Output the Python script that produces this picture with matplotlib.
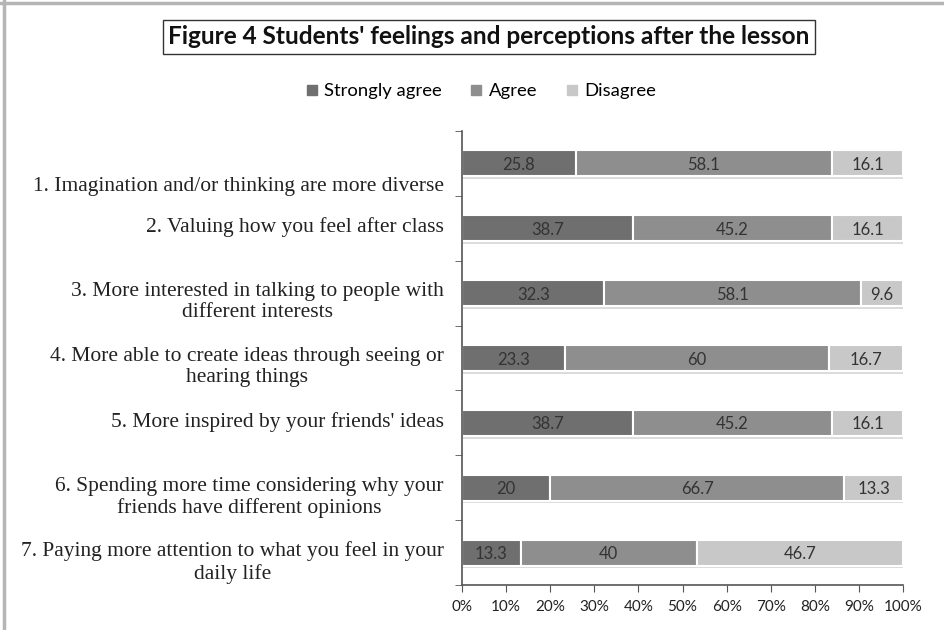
import matplotlib.pyplot as plt
import matplotlib.transforms as mtransforms
from matplotlib.lines import Line2D
from matplotlib import patheffects
import numpy as np

CATEGORIES = [
    "1. Imagination and/or thinking are more diverse",
    "2. Valuing how you feel after class",
    "3. More interested in talking to people with\ndifferent interests",
    "4. More able to create ideas through seeing or\nhearing things",
    "5. More inspired by your friends' ideas",
    "6. Spending more time considering why your\nfriends have different opinions",
    "7. Paying more attention to what you feel in your\ndaily life",
]
STRONGLY_AGREE = [25.8, 38.7, 32.3, 23.3, 38.7, 20, 13.3]
AGREE = [58.1, 45.2, 58.1, 60, 45.2, 66.7, 40]
DISAGREE = [16.1, 16.1, 9.6, 16.7, 16.1, 13.3, 46.7]
SERIES = ["Strongly agree", "Agree", "Disagree"]
COLORS = ["#6f6f6f", "#8e8e8e", "#c8c8c8"]
XTICKS = np.arange(0, 101, 10)

SANS = "Lato"
SERIF = "Liberation Serif"

fig = plt.figure(figsize=(9.45, 6.3), dpi=100)
ax = fig.add_axes([0.4889, 0.0714, 0.4667, 0.7206])

y = np.arange(len(CATEGORIES))
shadow = [patheffects.SimplePatchShadow(offset=(1, -2), shadow_rgbFace="#999999", alpha=0.35),
          patheffects.Normal()]
left = np.zeros(len(CATEGORIES))
for name, vals, col in zip(SERIES, [STRONGLY_AGREE, AGREE, DISAGREE], COLORS):
    vals = np.array(vals, dtype=float)
    bars = ax.barh(y, vals, left=left, height=0.4, color=col, edgecolor="white",
                   linewidth=1.5, label=name)
    for b in bars:
        b.set_path_effects(shadow)
    for yi, l, v in zip(y, left, vals):
        ax.text(l + v / 2, yi, f"{v:g}", ha="center", va="center_baseline",
                fontsize=12, family=SANS, color="#333333")
    left += vals

ax.set_xlim(0, 100)
ax.set_ylim(len(CATEGORIES) - 0.5, -0.5)
ax.set_xticks(XTICKS)
ax.set_xticklabels([f"{t}%" for t in XTICKS], family=SANS, fontsize=11, color="#222222")

# category boundaries carry the tick marks, centres carry the labels
ax.set_yticks(y)
ax.set_yticks(np.arange(-0.5, len(CATEGORIES)), minor=True)
ax.tick_params(axis="y", which="major", length=0, pad=13)
ax.tick_params(axis="y", which="minor", length=5, color="#555555")
ax.tick_params(axis="x", length=5, color="#555555", pad=6)
ax.set_yticklabels(CATEGORIES, family=SERIF, fontsize=15.5, color="#222222",
                   va="top", linespacing=1.15)
for i, lab in enumerate(ax.get_yticklabels()):
    lab.set_multialignment("center")
    dy = 11 if i > 0 else -14
    lab.set_transform(lab.get_transform() + mtransforms.ScaledTranslation(0, dy / 100, fig.dpi_scale_trans))

for s in ["top", "right"]:
    ax.spines[s].set_visible(False)
for s in ["left", "bottom"]:
    ax.spines[s].set_color("#555555")
    ax.spines[s].set_linewidth(1.2)

fig.text(0.5175, 0.9413, "Figure 4 Students' feelings and perceptions after the lesson",
         ha="center", va="center", family=SANS, weight="bold", fontsize=17.6, color="#111111",
         bbox=dict(boxstyle="square,pad=0.22", facecolor="white", edgecolor="#333333", linewidth=1))

handles = [Line2D([], [], marker="s", linestyle="none", markersize=7.5, color=c) for c in COLORS]
fig.legend(handles, SERIES, loc="center", bbox_to_anchor=(0.509, 0.855), ncol=3, frameon=False,
           prop={"family": SANS, "size": 13.3}, handlelength=0.6, handletextpad=0.35,
           columnspacing=1.6)

# grey frame from the screenshot
fig.add_artist(Line2D([0, 1], [0.995, 0.995], transform=fig.transFigure, color="#b5b5b5", lw=2.5))
fig.add_artist(Line2D([0.0045, 0.0045], [0, 1], transform=fig.transFigure, color="#b5b5b5", lw=2.5))

fig.savefig("out.png", dpi=100)
